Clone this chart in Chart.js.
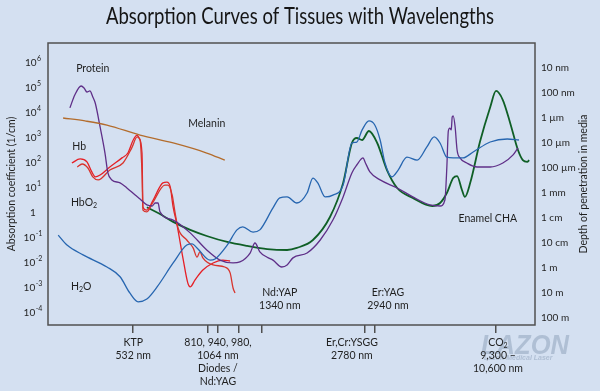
<!DOCTYPE html>
<html>
<head>
<meta charset="utf-8">
<script src="https://cdn.jsdelivr.net/npm/chart.js@4.4.0/dist/chart.umd.min.js"></script>
<style>
  html, body { margin: 0; padding: 0; background: #d4e0f1; }
  canvas { display: block; }
</style>
</head>
<body>
<canvas id="absorptionChart" width="600" height="391"></canvas>
<script>
// x = relative position along the (non-uniform) wavelength axis, 0..100
// y = absorption coefficient in 1/cm
const protein = [[4.5,1.6e4],[5.5,5.2e4],[6.8,1.2e5],[7.4,1e5],[8.0,6.9e4],[8.6,7.6e4],[9.2,4.4e4],[9.7,2.5e4],[10.7,2750],[11.7,250],[12.3,40],[13.1,21],[14.8,16],[16.2,10],[17.9,5.2],[18.9,3.6],[20.3,2.1],[21.4,1.9],[22.0,2.5],[22.4,2.5],[22.6,2.5],[23.0,1.1],[25.7,0.52],[29.2,0.16],[32.6,0.033],[35.3,0.013],[38.0,0.01],[39.4,0.011],[41.5,0.025],[42.5,0.063],[43.5,0.028],[45.0,0.017],[46.2,0.013],[48.0,0.0069],[49.1,0.0083],[50.3,0.016],[53.2,0.025],[55.9,0.083],[58.5,0.52],[60.6,4.4],[62.4,40],[63.4,83],[64.7,160],[65.1,110],[66.1,44],[68.2,21],[71.7,10],[74.9,4.4],[78.4,2.1],[80.5,1.9],[81.5,3.3],[81.9,69],[82.2,1900],[82.5,2500],[82.8,2100],[83.0,6900],[83.2,7600],[83.6,2750],[84.0,330],[84.6,160],[86.0,100],[88.1,69],[90.8,69],[93.4,100],[95.5,210],[96.5,400]];
const melanin = [[3.1,6300],[7.6,4800],[12.1,3300],[18.9,1300],[25.7,630],[32.6,250],[36.3,130]];
const hb = [[4.9,100],[6.6,145],[8.0,110],[9.0,44],[9.7,28],[10.7,33],[12.7,69],[15.2,160],[16.4,250],[17.5,830],[18.3,1300],[18.7,1000],[19.3,250],[19.5,1.7],[20.3,1.3],[21.6,3.3],[23.6,16],[24.4,17],[25.1,11],[25.7,1.7],[26.5,0.33],[27.7,0.016],[28.7,0.0016],[29.2,0.0011],[30.2,0.0021],[31.8,0.0052],[33.9,0.01],[35.9,0.013],[37.4,0.012]];
const hbo2 = [[6.0,69],[7.0,91],[8.2,63],[9.2,28],[10.3,21],[12.7,52],[15.4,100],[17.2,400],[18.3,1100],[18.9,830],[19.3,40],[19.5,1.3],[20.3,1.1],[21.6,2.8],[24.0,13],[24.6,13],[25.5,5.2],[26.1,1],[26.7,0.25],[28.5,0.083],[29.8,0.04],[30.6,0.017],[31.2,0.028],[31.8,0.016],[33.9,0.0083],[36.3,0.0069],[37.4,0.004],[38.0,0.001],[38.4,0.00063]];
const water = [[2.1,0.13],[3.9,0.052],[7.2,0.021],[12.1,0.0069],[14.8,0.0028],[16.8,0.00063],[18.5,0.00028],[20.3,0.00036],[22.4,0.0011],[25.7,0.01],[28.5,0.052],[29.6,0.058],[30.6,0.04],[33.3,0.013],[34.3,0.0145],[36.8,0.052],[38.8,0.21],[40.0,0.28],[42.1,0.17],[43.5,0.21],[46.2,1.6],[47.6,4],[49.1,4.4],[51.1,2.5],[53.2,6.3],[54.4,25],[55.4,16],[56.9,4.4],[58.5,5.2],[60.6,13],[62.4,630],[63.4,690],[64.5,2100],[65.9,4800],[67.1,3300],[68.2,830],[69.2,100],[70.6,28],[71.9,52],[73.7,170],[75.8,130],[77.8,440],[79.3,1100],[80.5,630],[81.9,170],[83.2,160],[85.2,160],[87.3,275],[90.8,690],[94.3,910],[96.7,830]];
const enamel = [[20.3,1.7],[23.0,0.91],[25.7,0.44],[29.2,0.21],[32.6,0.12],[36.8,0.069],[40.9,0.048],[45.0,0.036],[49.1,0.033],[51.1,0.04],[54.4,0.083],[57.9,0.69],[60.6,16],[62.4,630],[63.4,1000],[64.5,830],[65.9,1900],[67.6,630],[69.6,52],[71.7,10],[74.9,4],[78.9,1.9],[80.5,2.5],[81.9,6.3],[83.2,25],[84.0,30],[85.0,8.3],[85.6,4.4],[86.7,16],[88.7,700],[90.8,1.7e4],[92.0,7.6e4],[93.4,3.3e4],[94.9,4000],[96.5,330],[97.5,130],[98.4,110],[98.8,130]];

// axes
const yTickValues = [1e6,1e5,1e4,1e3,1e2,1e1,1,1e-1,1e-2,1e-3,1e-4];
const yTickLabels = [["10","6"],["10","5"],["10","4"],["10","3"],["10","2"],["10","1"],["1",""],["10","-1"],["10","-2"],["10","-3"],["10","-4"]];
const depthTickValues = [6.3e5,6.3e4,6.3e3,630,63,6.3,0.63,0.063,0.0063,0.00063,0.000063];
const depthTickLabels = ["10 nm","100 nm","1 µm","10 µm","100 µm","1 mm","1 cm","10 cm","1 m","10 m","100 m"];
const laserTickPos = [17.4, 32.8, 34.9, 39.1, 43.9, 65.1, 67.0, 91.9];

// text labels: [parts, x, y]  (parts: [text, 0 normal | 1 subscript])
const curveLabels = [
  [[["Protein",0]], 9.2, 5.8e5],
  [[["Melanin",0]], 32.6, 3600],
  [[["Hb",0]], 6.4, 440],
  [[["HbO",0],["2",1]], 7.4, 2.5],
  [[["H",0],["2",1],["O",0]], 6.8, 1.1e-3],
  [[["Enamel CHA",0]], 90.3, 0.58],
  [[["Nd:YAP",0]], 47.6, 6.3e-4],
  [[["1340 nm",0]], 47.6, 1.9e-4],
  [[["Er:YAG",0]], 69.8, 6.3e-4],
  [[["2940 nm",0]], 69.8, 1.9e-4],
];
// laser labels below the axis: [x, lines]
const laserLabels = [
  [17.5, [[["KTP",0]], [["532 nm",0]]]],
  [34.9, [[["810, 940, 980,",0]], [["1064 nm",0]], [["Diodes /",0]], [["Nd:YAG",0]]]],
  [62.4, [[["Er,Cr:YSGG",0]], [["2780 nm",0]]]],
  [92.4, [[["CO",0],["2",1]], [["9,300 –",0]], [["10,600 nm",0]]]],
];

const FONT = "Lato, 'Open Sans', sans-serif";
const INK = "#1f1f1f";

const drawRich = (ctx, parts, cx, cy, size) => {
  const fontFor = (sub) => `${sub ? Math.round(size * 0.7) : size}px ${FONT}`;
  let w = 0;
  parts.forEach(([t, sub]) => { ctx.font = fontFor(sub); w += ctx.measureText(t).width; });
  let x = cx - w / 2;
  ctx.textAlign = "left";
  ctx.textBaseline = "middle";
  parts.forEach(([t, sub]) => {
    ctx.font = fontFor(sub);
    ctx.fillText(t, x, sub ? cy + size * 0.3 : cy);
    x += ctx.measureText(t).width;
  });
};

const decorations = {
  id: "decorations",
  beforeDraw(chart) {
    const ctx = chart.ctx;
    ctx.save();
    ctx.fillStyle = "#d4e0f1";
    ctx.fillRect(0, 0, chart.width, chart.height);
    ctx.restore();
  },
  afterDraw(chart) {
    const { ctx, chartArea: a, scales: { x, y } } = chart;
    ctx.save();

    // frame
    ctx.strokeStyle = "#505050";
    ctx.lineWidth = 1.5;
    ctx.strokeRect(a.left, a.top, a.right - a.left, a.bottom - a.top);

    // title
    ctx.fillStyle = "#151515";
    ctx.font = `400 23px ${FONT}`;
    ctx.textAlign = "center";
    ctx.textBaseline = "middle";
    ctx.fillText("Absorption Curves of Tissues with Wavelengths", chart.width / 2, 17, 388);

    // watermark
    ctx.fillStyle = "rgba(160,176,200,0.7)";
    ctx.font = "italic bold 27px 'Liberation Sans', sans-serif";
    ctx.textAlign = "left";
    ctx.textBaseline = "alphabetic";
    ctx.fillText("LAZON", 481, 354, 88);
    ctx.font = "italic bold 7px 'Liberation Sans', sans-serif";
    ctx.fillText("Lazon Medical Laser", 484, 360, 82);

    ctx.fillStyle = INK;

    // left axis labels with superscripts
    yTickValues.forEach((v, i) => {
      const py = y.getPixelForValue(v);
      const [base, exp] = yTickLabels[i];
      ctx.font = `10px ${FONT}`;
      const wb = ctx.measureText(base).width;
      ctx.font = `7px ${FONT}`;
      const we = exp ? ctx.measureText(exp).width + 0.5 : 0;
      const left = 33 - (wb + we) / 2;
      ctx.textAlign = "left";
      ctx.textBaseline = "middle";
      ctx.font = `10px ${FONT}`;
      ctx.fillText(base, left, py);
      if (exp) {
        ctx.font = `7px ${FONT}`;
        ctx.fillText(exp, left + wb + 0.5, py - 4);
      }
    });

    // right axis labels
    ctx.font = `10px ${FONT}`;
    ctx.textAlign = "left";
    ctx.textBaseline = "middle";
    depthTickValues.forEach((v, i) => {
      ctx.fillText(depthTickLabels[i], a.right + 6, y.getPixelForValue(v));
    });

    // axis titles
    const midY = (a.top + a.bottom) / 2;
    ctx.font = `10.5px ${FONT}`;
    ctx.textAlign = "center";
    ctx.save();
    ctx.translate(12, midY);
    ctx.rotate(-Math.PI / 2);
    ctx.fillText("Absorption coefficient (1/cm)", 0, 0);
    ctx.restore();
    ctx.save();
    ctx.translate(584, midY);
    ctx.rotate(-Math.PI / 2);
    ctx.fillText("Depth of penetration in media", 0, 0);
    ctx.restore();

    // curve labels
    curveLabels.forEach(([parts, lx, ly]) => {
      drawRich(ctx, parts, x.getPixelForValue(lx), y.getPixelForValue(ly), 10.5);
    });

    // laser labels below axis
    laserLabels.forEach(([lx, lines]) => {
      lines.forEach((parts, j) => {
        drawRich(ctx, parts, x.getPixelForValue(lx), a.bottom + 18 + j * 13, 10.5);
      });
    });

    ctx.restore();
  }
};

const toPoints = (arr) => arr.map(([px, py]) => ({ x: px, y: py }));
const line = (label, data, color, width) => ({
  label,
  data: toPoints(data),
  borderColor: color,
  borderWidth: width,
  pointRadius: 0,
  tension: 0.4,
  cubicInterpolationMode: "monotone",
  fill: false,
});

new Chart(document.getElementById("absorptionChart"), {
  type: "line",
  data: {
    datasets: [
      line("Melanin", melanin, "#b36c2c", 1.3),
      line("Water", water, "#2766b0", 1.3),
      line("Protein", protein, "#5f2f88", 1.3),
      line("HbO2", hbo2, "#d8352e", 1.3),
      line("Hb", hb, "#e61f26", 1.3),
      line("Enamel CHA", enamel, "#0f5f26", 1.8),
    ],
  },
  options: {
    responsive: false,
    animation: false,
    layout: { padding: { top: 43, right: 65, left: 0, bottom: 0 } },
    plugins: {
      legend: { display: false },
      tooltip: { enabled: false },
      title: { display: false },
    },
    scales: {
      x: {
        type: "linear",
        min: 0,
        max: 100,
        afterBuildTicks: (scale) => { scale.ticks = laserTickPos.map(v => ({ value: v })); },
        afterFit: (scale) => { scale.height = 66; },
        ticks: { autoSkip: false, callback: () => "" },
        grid: { display: true, drawOnChartArea: false, drawTicks: true, tickLength: 8, color: "#505050", lineWidth: 1.5 },
        border: { display: false },
      },
      y: {
        type: "logarithmic",
        min: 3.3e-5,
        max: 6.3e6,
        afterFit: (scale) => { scale.width = 48; },
        ticks: { display: false },
        grid: { display: false },
        border: { display: false },
      },
    },
  },
  plugins: [decorations],
});
</script>
</body>
</html>
